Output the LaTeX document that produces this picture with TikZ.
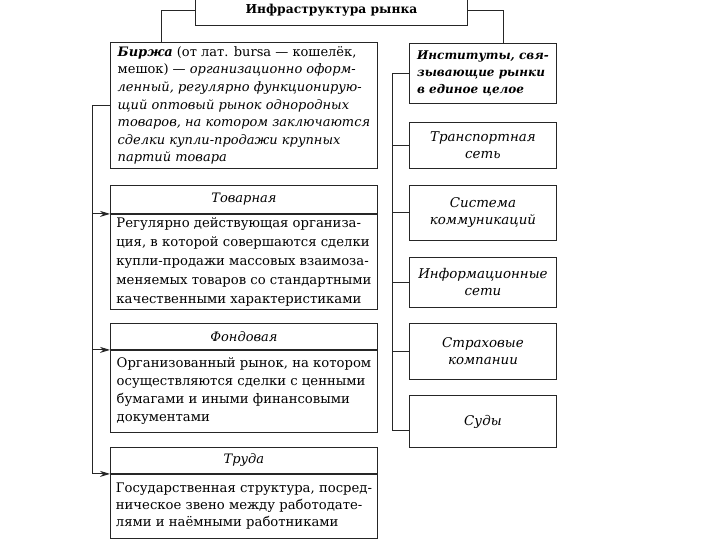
\documentclass[tikz,border=0pt]{standalone}
\usepackage{fontspec}
\setmainfont{DejaVu Serif}
\usetikzlibrary{positioning,arrows.meta}

\begin{document}
\begin{tikzpicture}[
    x=1pt, y=-1pt,
    box/.style={draw=black!85, line width=0.9pt, anchor=north west, inner sep=0pt,
      font=\fontsize{13.2}{18}\selectfont},
    head/.style={box, minimum width=267, minimum height=26, align=center,
      font=\fontsize{13}{18}\selectfont\itshape},
    body/.style={box, minimum width=267, align=left},
    inst/.style={box, minimum width=147, align=center,
      font=\fontsize{13.4}{17}\selectfont\itshape},
    link/.style={draw=black!85, line width=0.9pt},
    arr/.style={link, -{Stealth[length=10pt,width=6pt]}}]
  \useasboundingbox (0,0) rectangle (720,540);
  % заголовок
  \node[box, minimum width=272, minimum height=30, font=\fontsize{12.3}{18}\selectfont\bfseries]
    (infra) at (195,-5) {Инфраструктура рынка};
  % левая колонка
  \node[body, minimum height=126, font=\fontsize{13}{17.6}\selectfont] (birzha) at (110,42)
    {\textbf{\textit{Биржа}} (от лат. bursa — кошелёк,\\
     мешок) — \textit{организационно оформ-}\\
     \textit{ленный, регулярно функционирую-}\\
     \textit{щий оптовый рынок однородных}\\
     \textit{товаров, на котором заключаются}\\
     \textit{сделки купли-продажи крупных}\\
     \textit{партий товара}};
  \node[head, minimum height=28] (tovarh) at (110,185) {Товарная};
  \node[body, minimum height=95, below=0pt of tovarh.south west, anchor=north west,
    font=\fontsize{13.2}{19}\selectfont] (tovarb)
    {Регулярно действующая организа-\\
     ция, в которой совершаются сделки\\
     купли-продажи массовых взаимоза-\\
     меняемых товаров со стандартными\\
     качественными характеристиками};
  \node[head] (fondh) at (110,323) {Фондовая};
  \node[body, minimum height=82, below=0pt of fondh.south west, anchor=north west] (fondb)
    {Организованный рынок, на котором\\
     осуществляются сделки с ценными\\
     бумагами и иными финансовыми\\
     документами};
  \node[head] (trudh) at (110,447) {Труда};
  \node[body, minimum height=64, below=0pt of trudh.south west, anchor=north west,
    font=\fontsize{13.2}{17}\selectfont] (trudb)
    {Государственная структура, посред-\\
     ническое звено между работодате-\\
     лями и наёмными работниками};
  % правая колонка
  \node[inst, minimum height=60, align=left, font=\fontsize{12}{17}\selectfont\bfseries\itshape]
    (instit) at (409,43) {Институты, свя-\\зывающие рынки\\в единое целое};
  \node[inst, minimum height=46] (transp) at (409,122) {Транспортная\\сеть};
  \node[inst, minimum height=55] (svyaz) at (409,185) {Система\\коммуникаций};
  \node[inst, minimum height=50] (inform) at (409,257) {Информационные\\сети};
  \node[inst, minimum height=56] (strakh) at (409,323) {Страховые\\компании};
  \node[inst, minimum height=52] (sudy) at (409,395) {Суды};
  % связи
  \draw[link] (infra.west) -| ([xshift=51]birzha.north west);
  \draw[link] (infra.east) -| ([xshift=94]instit.north west);
  \draw[link] (birzha.west) -- ++(-18,0) coordinate (lbus);
  \draw[arr] (lbus) |- (trudh.south west);
  \foreach \n in {tovarh, fondh}
    \draw[arr] (lbus |- \n.south west) -- (\n.south west);
  \draw[link] (instit.west) -- ++(-17,0) coordinate (rbus);
  \draw[link] (rbus) |- ([yshift=-9pt]sudy.west);
  \foreach \n in {transp, svyaz, inform, strakh}
    \draw[link] (rbus |- \n.west) -- (\n.west);
\end{tikzpicture}
\end{document}
